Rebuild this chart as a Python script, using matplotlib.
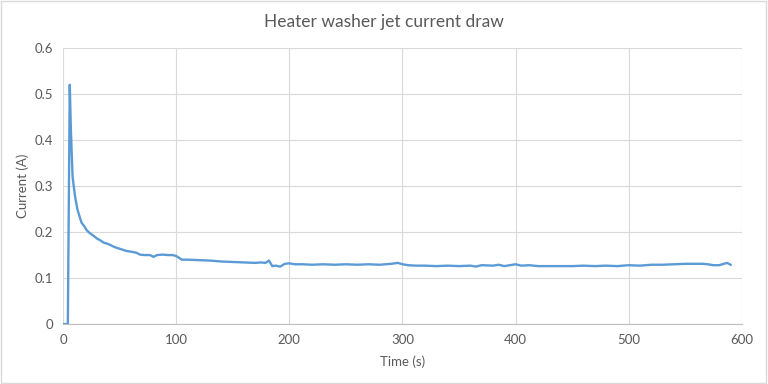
import matplotlib.pyplot as plt
from matplotlib.patches import Rectangle

time_s = [0, 4, 4.3, 6, 7, 8.5, 10.5, 12.7, 14.5, 16.5, 19, 21, 24, 27, 30, 33, 36, 40, 46, 51, 56,
          61, 65, 68, 72, 77, 80, 83, 88, 93, 97, 100, 102, 105, 110, 120, 130, 140, 150,
          160, 170, 175, 179, 182, 185, 188, 192, 196, 200, 205, 212, 220, 230, 240, 250,
          260, 270, 280, 290, 296, 300, 305, 312, 320, 330, 340, 350, 360, 365, 370, 380,
          385, 390, 395, 400, 405, 412, 420, 430, 440, 450, 460, 470, 480, 490, 500, 510,
          520, 530, 540, 550, 560, 565, 570, 575, 580, 584, 587, 590]
current_a = [0, 0, 0.0, 0.52, 0.42, 0.32, 0.28, 0.25, 0.235, 0.22, 0.212, 0.204, 0.197, 0.192,
             0.186, 0.182, 0.177, 0.174, 0.167, 0.163, 0.159, 0.157, 0.155, 0.151, 0.15, 0.15,
             0.146, 0.15, 0.151, 0.15, 0.15, 0.148, 0.145, 0.14, 0.14, 0.139, 0.138, 0.136,
             0.135, 0.134, 0.133, 0.134, 0.133, 0.138, 0.126, 0.127, 0.125, 0.131, 0.132,
             0.13, 0.13, 0.129, 0.13, 0.129, 0.13, 0.129, 0.13, 0.129, 0.131, 0.133, 0.13,
             0.128, 0.127, 0.127, 0.126, 0.127, 0.126, 0.127, 0.125, 0.128, 0.127, 0.129,
             0.126, 0.128, 0.13, 0.127, 0.128, 0.126, 0.126, 0.126, 0.126, 0.127, 0.126,
             0.127, 0.126, 0.128, 0.127, 0.129, 0.129, 0.13, 0.131, 0.131, 0.131, 0.13,
             0.128, 0.128, 0.131, 0.133, 0.129]

x_ticks = [0, 100, 200, 300, 400, 500, 600]
y_ticks = [0, 0.1, 0.2, 0.3, 0.4, 0.5, 0.6]
y_labels = ['0', '0.1', '0.2', '0.3', '0.4', '0.5', '0.6']

grey = '#595959'
plt.rcParams['font.family'] = ['Lato', 'DejaVu Sans']

fig = plt.figure(figsize=(7.68, 3.84), dpi=100)
ax = fig.add_axes([0.082, 0.156, 0.884, 0.719])

ax.plot(time_s, current_a, color='#5B9BD5', linewidth=1.7, solid_joinstyle='round')

ax.set_xlim(0, 600)
ax.set_ylim(0, 0.6)
ax.set_xticks(x_ticks)
ax.set_yticks(y_ticks)
ax.set_yticklabels(y_labels)
ax.grid(True, color='#D9D9D9', linewidth=0.8)
ax.set_axisbelow(True)
for s in ['top', 'right', 'left']:
    ax.spines[s].set_visible(False)
ax.spines['bottom'].set_color('#BFBFBF')
ax.tick_params(length=0, colors=grey, labelsize=9.5, pad=7)

ax.set_xlabel('Time (s)', color=grey, fontsize=9.5, labelpad=7)
ax.set_ylabel('Current (A)', color=grey, fontsize=9.5, labelpad=4)
fig.text(0.5, 0.943, 'Heater washer jet current draw', ha='center', va='center',
         color=grey, fontsize=12.5)

# Rahmen um das ganze Diagramm
fig.patches.append(Rectangle((0.001, 0.002), 0.997, 0.995, transform=fig.transFigure,
                             fill=False, edgecolor='#D9D9D9', linewidth=1))

fig.savefig('out.png', dpi=100)
